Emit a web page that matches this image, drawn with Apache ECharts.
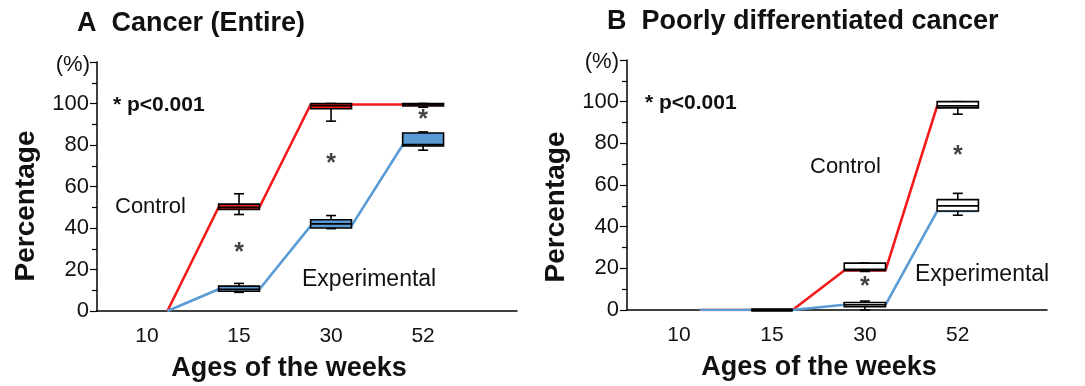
<!DOCTYPE html>
<html>
<head>
<meta charset="utf-8">
<script src="https://cdn.jsdelivr.net/npm/echarts@6/dist/echarts.min.js"></script>
<style>
  html, body { margin: 0; padding: 0; background: #fff; }
  #chart { width: 1085px; height: 386px; }
</style>
</head>
<body>
<div id="chart"></div>
<script>
// week labels (x categories)
var weeks = ["10", "15", "30", "52"];

// boxes: [min, q1, median, q3, max], null = no box
var boxCtrlA = [null, [46.5, 49, 50, 51.5, 56.5], [91.5, 97.5, 99, 100, 100], [98.2, 98.8, 99.5, 100, 100]];
var boxExpA = [null, [9, 9.5, 10.5, 12, 13.3], [39.7, 40, 42, 44, 46], [77.5, 79.5, 80.2, 85.8, 86.3]];
var boxCtrlB = [null, [0, 0, 0, 0, 0], [18.5, 19, 19.5, 22.5, 22.5], [94, 97, 98, 100, 100]];
var boxExpB = [null, [0, 0, 0, 0, 0], [0, 1.6, 2.5, 3.6, 4.3], [45.5, 47.5, 50, 53, 56]];

// values where the connecting lines meet each box
var lineCtrlA = [0, 50, 99.5, 99.5];
var lineExpA = [0, 10.5, 41, 80];
var lineCtrlB = [0, 0, 19, 98];
var lineExpB = [0, 0, 2.5, 47.5];

// heights of the significance asterisks
var starA = [null, 28, 71, 92];
var starB = [null, null, 11, 74];

var yTicks = [0, 20, 40, 60, 80, 100];

var RED = "#f51a1a";
var BLUE = "#5b9bd5";
var FONT = "'Liberation Sans', Arial, sans-serif";
var HW = 0.222; // half box width in category units

function lineData(vals) {
  var out = [];
  for (var i = 0; i < vals.length; i++) {
    if (i > 0) out.push([i - HW, vals[i]]);
    out.push([i + HW, vals[i]]);
  }
  return out;
}

function boxData(boxes) {
  var out = [];
  boxes.forEach(function (b, i) {
    if (b) out.push([i].concat(b));
  });
  return out;
}

function starData(vals) {
  var out = [];
  vals.forEach(function (v, i) {
    if (v != null) out.push([i, v]);
  });
  return out;
}

function makeRender(fill) {
  return function (params, api) {
    var x = api.value(0);
    var lo = api.coord([x, api.value(1)]);
    var q1 = api.coord([x, api.value(2)]);
    var md = api.coord([x, api.value(3)]);
    var q3 = api.coord([x, api.value(4)]);
    var hi = api.coord([x, api.value(5)]);
    var w = api.size([HW * 2, 0])[0];
    var cap = 5;
    var st = { stroke: "#000", lineWidth: 1.6, fill: null };
    var h = Math.max(q1[1] - q3[1], 0);
    return {
      type: "group",
      children: [
        { type: "line", shape: { x1: md[0], y1: hi[1], x2: md[0], y2: q3[1] }, style: st },
        { type: "line", shape: { x1: md[0], y1: q1[1], x2: md[0], y2: lo[1] }, style: st },
        { type: "line", shape: { x1: md[0] - cap, y1: hi[1], x2: md[0] + cap, y2: hi[1] }, style: st },
        { type: "line", shape: { x1: md[0] - cap, y1: lo[1], x2: md[0] + cap, y2: lo[1] }, style: st },
        { type: "rect", shape: { x: md[0] - w / 2, y: q3[1], width: w, height: h },
          style: { fill: fill, stroke: "#000", lineWidth: h < 1 ? 3 : 1.6 } },
        { type: "line", shape: { x1: md[0] - w / 2, y1: md[1], x2: md[0] + w / 2, y2: md[1] }, style: st }
      ]
    };
  };
}

function xAxis(idx, min, max) {
  return {
    type: "value", gridIndex: idx, min: min, max: max,
    axisLine: { show: true, onZero: false, lineStyle: { color: "#000", width: 1.5 } },
    axisTick: { show: false },
    splitLine: { show: false },
    axisLabel: {
      customValues: [0, 1, 2, 3], margin: 15,
      color: "#111", fontSize: 21, fontFamily: FONT,
      formatter: function (v) { return weeks[Math.round(v)]; }
    }
  };
}

function yAxis(idx) {
  return {
    type: "value", gridIndex: idx, min: 0, max: 120, interval: 20,
    axisLine: { show: true, onZero: false, lineStyle: { color: "#000", width: 1.5 } },
    axisTick: { show: true, length: 7, lineStyle: { color: "#000", width: 1.2 } },
    minorTick: { show: true, splitNumber: 2, length: 5, lineStyle: { color: "#000", width: 1.2 } },
    splitLine: { show: false },
    axisLabel: {
      margin: 8, color: "#111", fontSize: 22, fontFamily: FONT,
      formatter: function (v) { return yTicks.indexOf(v) >= 0 ? String(v) : ""; }
    }
  };
}

function panelSeries(idx, ctrlLine, expLine, ctrlBox, expBox, ctrlFill, expFill, stars) {
  return [
    { type: "line", xAxisIndex: idx, yAxisIndex: idx, data: lineData(ctrlLine), symbol: "none",
      lineStyle: { color: RED, width: 2.6 }, z: 3, silent: true },
    { type: "line", xAxisIndex: idx, yAxisIndex: idx, data: lineData(expLine), symbol: "none",
      lineStyle: { color: BLUE, width: 2.6 }, z: 3, silent: true },
    { type: "custom", xAxisIndex: idx, yAxisIndex: idx, data: boxData(ctrlBox),
      renderItem: makeRender(ctrlFill), z: 5 },
    { type: "custom", xAxisIndex: idx, yAxisIndex: idx, data: boxData(expBox),
      renderItem: makeRender(expFill), z: 5 },
    { type: "scatter", xAxisIndex: idx, yAxisIndex: idx, data: starData(stars), symbolSize: 0,
      label: { show: true, position: "inside", formatter: "*", color: "#111",
        fontSize: 25, fontWeight: "bold", fontFamily: FONT }, z: 6 }
  ];
}

function txt(text, x, y, size, bold, align, rot) {
  return {
    type: "text", x: x, y: y, rotation: rot || 0,
    style: {
      text: text, fill: "#111", fontSize: size, fontWeight: bold ? "bold" : "normal",
      fontFamily: FONT, textAlign: align || "left", textVerticalAlign: "middle"
    }
  };
}

var chart = echarts.init(document.getElementById("chart"), null, { renderer: "canvas" });
chart.setOption({
  animation: false,
  backgroundColor: "#fff",
  grid: [
    { left: 97, right: 568, top: 62, bottom: 75 },
    { left: 627, right: 38, top: 60, bottom: 76 }
  ],
  xAxis: [xAxis(0, -0.543, 4.02), xAxis(1, -0.56, 3.96)],
  yAxis: [yAxis(0), yAxis(1)],
  series: panelSeries(0, lineCtrlA, lineExpA, boxCtrlA, boxExpA, RED, BLUE, starA)
    .concat(panelSeries(1, lineCtrlB, lineExpB, boxCtrlB, boxExpB, "#fff", "#fff", starB)),
  graphic: [
    txt("A  Cancer (Entire)", 77, 24, 27, true),
    txt("(%)", 90, 65, 22, false, "right"),
    txt("* p<0.001", 113, 105, 21, true),
    txt("Control", 115, 207, 22, false),
    txt("Experimental", 302, 280, 23, false),
    txt("Percentage", 26, 206, 28, true, "center", Math.PI / 2),
    txt("Ages of the weeks", 289, 369, 27, true, "center"),

    txt("B  Poorly differentiated cancer", 607, 22, 27, true),
    txt("(%)", 619, 62, 22, false, "right"),
    txt("* p<0.001", 645, 103, 21, true),
    txt("Control", 810, 167, 22, false),
    txt("Experimental", 915, 275, 23, false),
    txt("Percentage", 556, 207, 28, true, "center", Math.PI / 2),
    txt("Ages of the weeks", 819, 368, 27, true, "center")
  ]
});
</script>
</body>
</html>
